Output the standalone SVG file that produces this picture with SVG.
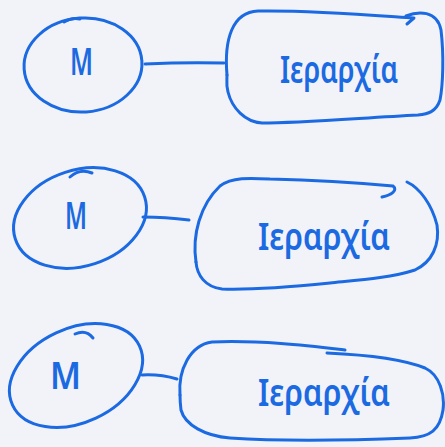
<svg xmlns="http://www.w3.org/2000/svg" width="445" height="447" viewBox="0 0 445 447">
  <style>
    .ink { fill: none; stroke: #1b6ae2; stroke-width: 3; stroke-linecap: round; stroke-linejoin: round; }
    .m { font-family: "Noto Sans", "DejaVu Sans", sans-serif; font-size: 38px; font-weight: 600; fill: #1b6ae2; }
    .lbl { font-family: "Noto Sans", "DejaVu Sans", sans-serif; font-size: 38px; font-weight: 600; fill: #1b6ae2; }
  </style>
  <rect width="445" height="447" fill="#f2f3f8"/>

  <!-- row 1 -->
  <g id="m1">
    <ellipse class="ink" cx="83" cy="65" rx="59" ry="47" transform="rotate(-4 83 65)"/>
    <path class="ink" d="M64,22 Q72,17 80,19"/>
    <text class="m" x="70" y="75" textLength="23" lengthAdjust="spacingAndGlyphs">Μ</text>
  </g>
  <g id="h1">
    <path class="ink" d="M227,75 C224,40 232,12 258,11 C310,10 370,15 414,18 L407,24"/>
    <path class="ink" d="M406,16 C418,11 437,10 441,30 C444,55 443,85 440,100 C436,112 428,114 418,115 C360,118 300,123 262,123 C245,122 232,108 228,92 C226,85 227,80 227,75"/>
    <text class="lbl" x="280" y="83" textLength="118" lengthAdjust="spacingAndGlyphs">Ιεραρχία</text>
  </g>

  <!-- row 2 -->
  <g id="m2">
    <ellipse class="ink" cx="80" cy="218" rx="68" ry="48" transform="rotate(-18 80 218)"/>
    <path class="ink" d="M70,177 Q80,168 92,173"/>
    <text class="m" x="65" y="229" textLength="22" lengthAdjust="spacingAndGlyphs">Μ</text>
  </g>
  <g id="h2">
    <path class="ink" d="M196,262 C192,235 200,205 220,186 C232,177 250,178 270,179 C310,180 360,183 393,186 C398,190 392,195 382,197"/>
    <path class="ink" d="M407,182 C420,188 432,205 437,225 C440,245 432,262 415,270 C390,278 360,280 330,283 C290,287 250,290 222,289 C205,287 197,275 196,262"/>
    <text class="lbl" x="258" y="250" textLength="132" lengthAdjust="spacingAndGlyphs">Ιεραρχία</text>
  </g>

  <!-- row 3 -->
  <g id="m3">
    <ellipse class="ink" cx="76" cy="375.5" rx="70" ry="47" transform="rotate(-25 76 375.5)"/>
    <path class="ink" d="M75,334 Q86,329 93,338"/>
    <text class="m" x="50" y="389" textLength="31" lengthAdjust="spacingAndGlyphs">Μ</text>
  </g>
  <g id="h3">
    <path class="ink" d="M180,395 C178,370 190,345 212,342 C260,340 310,346 345,350"/>
    <path class="ink" d="M327,353 C370,355 405,360 425,368 C440,375 445,395 443,410 C440,430 430,437 410,438 C360,440 290,442 230,438 C205,436 185,425 181,410 C180,402 180,398 180,395"/>
    <text class="lbl" x="258" y="406" textLength="132" lengthAdjust="spacingAndGlyphs">Ιεραρχία</text>
  </g>

  <!-- links between each Μ and its hierarchy box -->
  <g id="connectors">
    <path class="ink" d="M145,64 Q185,62 224,63"/>
    <path class="ink" d="M143,217 Q165,217 189,220"/>
    <path class="ink" d="M142,375 Q160,374 177,379"/>
  </g>
</svg>
